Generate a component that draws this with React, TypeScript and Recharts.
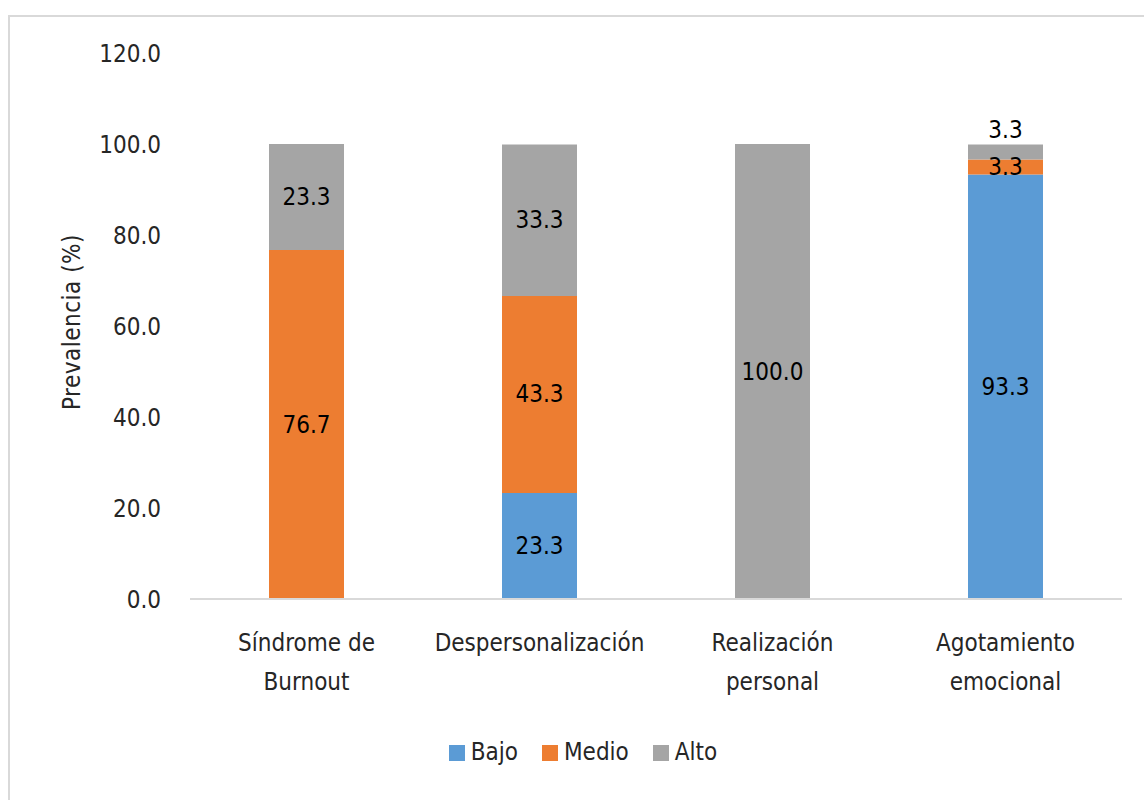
import { Bar, BarChart, Legend, XAxis, YAxis, LabelList } from "recharts";

const categories = ["Síndrome de Burnout", "Despersonalización", "Realización personal", "Agotamiento emocional"];
const bajo = [0, 23.3, 0, 93.3];
const medio = [76.7, 43.3, 0, 3.3];
const alto = [23.3, 33.3, 100, 3.3];
const yTicks = [0, 20, 40, 60, 80, 100, 120];
const seriesOrder = ["Bajo", "Medio", "Alto"];

const BLUE = "#5B9BD5";
const ORANGE = "#ED7D31";
const GRAY = "#A5A5A5";
const INK = "#000000";
const TEXT = "#262626";
const FONT = "'Liberation Sans Narrow', 'DejaVu Sans Condensed', sans-serif";

const data = categories.map((c, i) => ({
  name: c,
  Bajo: bajo[i] || null,
  Medio: medio[i] || null,
  Alto: alto[i] || null,
}));

// split category names into two lines like Excel wraps them
const LINES: Record<string, string[]> = {
  "Síndrome de Burnout": ["Síndrome de", "Burnout"],
  "Despersonalización": ["Despersonalización"],
  "Realización personal": ["Realización", "personal"],
  "Agotamiento emocional": ["Agotamiento", "emocional"],
};

function CategoryTick(props: any) {
  const { x, y, payload } = props;
  const lines = LINES[payload.value] ?? [payload.value];
  return (
    <text x={x} y={y + 44} textAnchor="middle" fontFamily={FONT} fontSize={24} fill={TEXT}>
      {lines.map((l, i) => (
        <tspan key={i} x={x} dy={i === 0 ? 0 : 39}>
          {l}
        </tspan>
      ))}
    </text>
  );
}

const segLabel = (above: boolean) => (props: any) => {
  const { x, y, width, height, value } = props;
  if (value == null || typeof x !== "number") return null;
  const small = height < 20;
  const cx = x + width / 2;
  const cy = above && small ? y - 14 : y + height / 2;
  return (
    <text x={cx} y={cy} textAnchor="middle" dominantBaseline="central" fontFamily={FONT} fontSize={24} fill={INK}>
      {Number(value).toFixed(1)}
    </text>
  );
};

export default function App() {
  return (
    <div style={{ position: "absolute", left: 0, top: 0, width: 1144, height: 800, background: "#fff", overflow: "hidden" }}>
      <div
        style={{
          position: "absolute",
          left: 8,
          top: 15,
          width: 1200,
          height: 900,
          border: "2px solid #D9D9D9",
          boxSizing: "border-box",
        }}
      />
      <div style={{ position: "absolute", left: 0, top: 0 }}>
        <BarChart width={1144} height={800} data={data} margin={{ top: 53, right: 22, bottom: 101, left: 40 }} barSize={75}>
          <XAxis
            dataKey="name"
            tick={<CategoryTick />}
            tickLine={false}
            axisLine={{ stroke: "#D9D9D9", strokeWidth: 2 }}
            interval={0}
            height={100}
          />
          <YAxis
            width={150}
            domain={[0, 120]}
            ticks={yTicks}
            tickFormatter={(v: number) => v.toFixed(1)}
            tick={{ fill: TEXT, fontSize: 24, fontFamily: FONT }}
            tickLine={false}
            tickSize={0}
            tickMargin={29}
            axisLine={false}
            label={{
              content: (p: any) => {
                const vb = p.viewBox;
                const cx = vb.x + 32;
                const cy = vb.y + vb.height / 2 - 4;
                return (
                  <text
                    x={cx}
                    y={cy}
                    transform={`rotate(-90, ${cx}, ${cy})`}
                    textAnchor="middle"
                    dominantBaseline="central"
                    fontFamily={FONT}
                    fontSize={24}
                    fill={TEXT}
                    letterSpacing="0.5"
                  >
                    Prevalencia (%)
                  </text>
                );
              },
            }}
          />
          <Legend
            verticalAlign="middle"
            iconType="square"
            iconSize={16}
            itemSorter={(item: any) => seriesOrder.indexOf(item.value)}
            wrapperStyle={{ left: 0, width: 1190, top: 738, fontFamily: FONT, fontSize: 24 }}
            formatter={(v: string) => <span style={{ color: TEXT, paddingLeft: 2, paddingRight: 14 }}>{v}</span>}
          />
          <Bar dataKey="Bajo" stackId="a" fill={BLUE} isAnimationActive={false}>
            <LabelList dataKey="Bajo" content={segLabel(false)} />
          </Bar>
          <Bar dataKey="Medio" stackId="a" fill={ORANGE} isAnimationActive={false}>
            <LabelList dataKey="Medio" content={segLabel(false)} />
          </Bar>
          <Bar dataKey="Alto" stackId="a" fill={GRAY} isAnimationActive={false}>
            <LabelList dataKey="Alto" content={segLabel(true)} />
          </Bar>
        </BarChart>
      </div>
    </div>
  );
}
